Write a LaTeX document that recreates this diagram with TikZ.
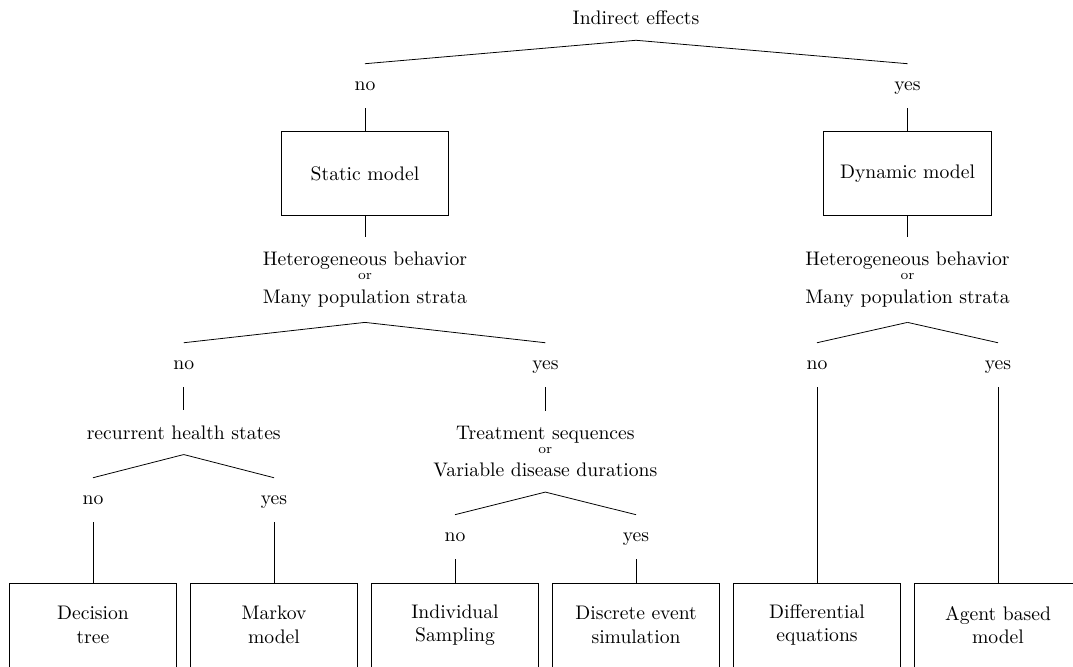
\documentclass[tikz,border=0pt]{standalone}
\usepackage{amsmath}
\usepackage{tikz}

\begin{document}
\begin{tikzpicture}[
    cond/.style={align=center, inner xsep=2pt, inner ysep=7.5pt},
    answer/.style={text height=1ex, text depth=0pt, inner ysep=9pt},
    model/.style={draw, align=center, minimum width=3cm, minimum height=1.5cm}
  ]
  % fix page size
  \useasboundingbox (0,0) rectangle (19.212,11.925);

  % Root question
  \node[cond] (indirect) at (11.388,11.6) {Indirect effects};
  \node[answer] (no1) at (6.535,10.385) {no};
  \node[answer] (yes1) at (16.249,10.385) {yes};

  % Static and dynamic models
  \node[model] (static) at (6.535,8.818) {Static model};
  \node[model] (dynamic) at (16.249,8.818) {Dynamic model};

  % Heterogeneity questions
  \node[cond] (hetL) at (6.535,6.915) {Heterogeneous behavior\\[-5pt]{\scriptsize or}\\Many population strata};
  \node[cond] (hetR) at (16.249,6.915) {Heterogeneous behavior\\[-5pt]{\scriptsize or}\\Many population strata};
  \node[answer] (no2) at (3.29,5.389) {no};
  \node[answer] (yes2) at (9.765,5.389) {yes};
  \node[answer] (no3) at (14.628,5.389) {no};
  \node[answer] (yes3) at (17.869,5.389) {yes};

  % Lower questions
  \node[cond] (recur) at (3.29,4.181) {recurrent health states};
  \node[cond] (treat) at (9.765,3.841) {Treatment sequences\\[-5pt]{\scriptsize or}\\Variable disease durations};
  \node[answer] (no4) at (1.665,2.972) {no};
  \node[answer] (yes4) at (4.906,2.972) {yes};
  \node[answer] (no5) at (8.147,2.31) {no};
  \node[answer] (yes5) at (11.388,2.31) {yes};

  % Model types
  \node[model] (dtree) at (1.665,0.734) {Decision\\tree};
  \node[model] (markov) at (4.906,0.734) {Markov\\model};
  \node[model] (indiv) at (8.147,0.734) {Individual\\Sampling};
  \node[model] (des) at (11.388,0.734) {Discrete event\\simulation};
  \node[model] (diffeq) at (14.628,0.734) {Differential\\equations};
  \node[model] (abm) at (17.869,0.734) {Agent based\\model};

  % Connect the tree
  \foreach \a/\b in {indirect/no1, indirect/yes1, no1/static, yes1/dynamic,
      static/hetL, dynamic/hetR, hetL/no2, hetL/yes2, hetR/no3, hetR/yes3,
      no2/recur, yes2/treat, recur/no4, recur/yes4, treat/no5, treat/yes5,
      no4/dtree, yes4/markov, no5/indiv, yes5/des, no3/diffeq, yes3/abm} {
    \draw (\a.south) -- (\b.north);
  }
\end{tikzpicture}
\end{document}
